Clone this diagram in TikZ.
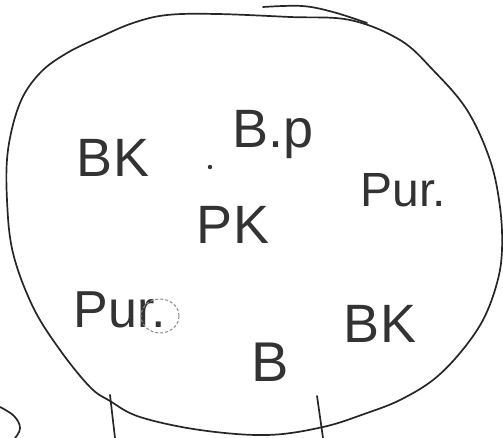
\documentclass[tikz,border=0pt]{standalone}
\usepackage{fontspec}
\setmainfont{Liberation Sans}
\begin{document}
\begin{tikzpicture}[x=1pt,y=-1pt,
  stroke/.style={line width=1.7pt,black!85,line join=round,line cap=round},
  word/.style={inner sep=0pt,text=black!80,font=\fontsize{#1}{#1}\selectfont},
  word/.default=52]
\useasboundingbox (0,0) rectangle (503,438);
% outline
\draw[stroke] plot[smooth cycle,tension=0.6] coordinates{
 (167,15) (217,14) (290,17) (350,20) (400,40) (433,70) (467,110) (490,160)
 (500,207) (502,250) (497,283) (483,320) (460,353) (433,380) (400,400)
 (367,413) (323,427) (267,435) (200,430) (140,417) (110,401) (90,387)
 (60,350) (33,307) (13,253) (7,200) (8,150) (20,103) (40,73) (67,53)
 (100,37) (133,23)};
\draw[stroke] plot[smooth,tension=0.6] coordinates{(263,7) (302,6) (333,12) (367,23)};
% vertical strokes at the bottom
\coordinate (l1) at (110,395); \coordinate (l2) at (115,438);
\coordinate (r1) at (317,396); \coordinate (r2) at (323,438);
\draw[stroke] (l1) -- (l2);
\draw[stroke] (r1) -- (r2);
% small arc at bottom left
\draw[stroke] plot[smooth,tension=0.7] coordinates{(0,407) (14,416) (20,428) (15,438)};
% labels
\node[word=54] (bk1) at (113,158) {BK};
\fill[black!80] (210,167) circle (2.2pt);
\node[word=54,anchor=base west] (bp) at (232,148) {B.p};
\node[word=48] (pur1) at (403,190) {Pur.};
\node[word=54] (pk) at (233,225) {PK};
\node[word=52] (pur2) at (120,310) {Pur.};
\draw[black!45,line width=1pt,densely dashed] (160,316) ellipse (19pt and 17pt);
\node[word=54] (bk2) at (380,324) {BK};
\node[word=56] (b) at (270,362) {B};
\end{tikzpicture}
\end{document}
